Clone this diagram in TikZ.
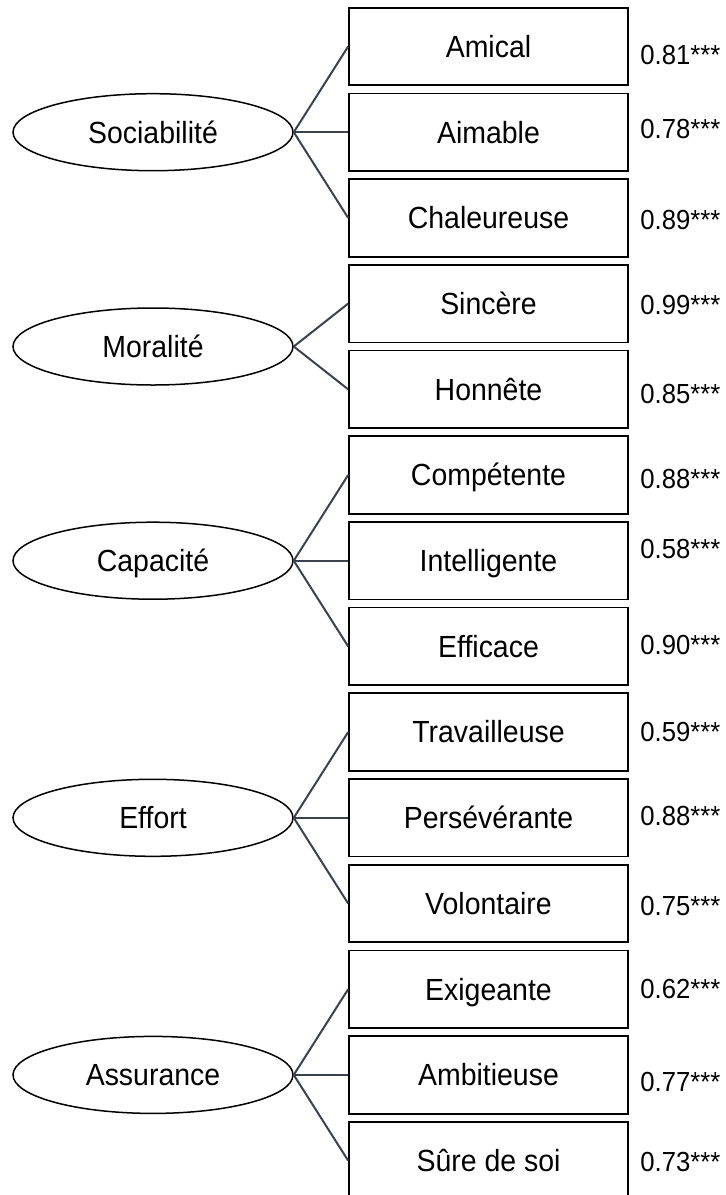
\documentclass[tikz,border=0pt]{standalone}
\usepackage{fontspec}
\setmainfont{Liberation Sans}[FakeStretch=0.93]
\usepackage{tikz}
\usetikzlibrary{shapes.geometric}
\definecolor{linkgray}{RGB}{58,66,78}
\tikzset{x=0.5pt,y=-0.5pt}

\begin{document}
\begin{tikzpicture}
    \tikzstyle{lnode} = [draw=black, line width=0.75pt, ellipse, inner sep=0pt, minimum width=140pt, minimum height=38.5pt, text height=10.8pt, text depth=0pt, font=\fontsize{15.3pt}{18pt}\selectfont]
    \tikzstyle{inode} = [draw=black, line width=0.85pt, rectangle, inner sep=0pt, minimum width=139.5pt, minimum height=38.8pt, text height=10.8pt, text depth=0pt, font=\fontsize{15.3pt}{18pt}\selectfont]
    \tikzstyle{wnode} = [anchor=base west, inner sep=0pt, font=\fontsize{13.8pt}{18pt}\selectfont]
    \tikzstyle{link} = [draw=linkgray, line width=1pt]
    \useasboundingbox (0,0) rectangle (725,1195);
    \clip (0,0) rectangle (725,1195);

    \node[lnode] (soc) at (153,132.2) {Sociabilité};
    \node[lnode] (mor) at (153,346.5) {Moralité};
    \node[lnode] (cap) at (153,560.7) {Capacité};
    \node[lnode] (eff) at (153,817.8) {Effort};
    \node[lnode] (ass) at (153,1074.9) {Assurance};

    \node[inode] (i1) at (488.5,46.5) {Amical};
    \node[inode] (i2) at (488.5,132.2) {Aimable};
    \node[inode] (i3) at (488.5,217.9) {Chaleureuse};
    \node[inode] (i4) at (488.5,303.6) {Sincère};
    \node[inode] (i5) at (488.5,389.3) {Honnête};
    \node[inode] (i6) at (488.5,475.0) {Compétente};
    \node[inode] (i7) at (488.5,560.7) {Intelligente};
    \node[inode] (i8) at (488.5,646.4) {Efficace};
    \node[inode] (i9) at (488.5,732.1) {Travailleuse};
    \node[inode] (i10) at (488.5,817.8) {Persévérante};
    \node[inode] (i11) at (488.5,903.5) {Volontaire};
    \node[inode] (i12) at (488.5,989.2) {Exigeante};
    \node[inode] (i13) at (488.5,1074.9) {Ambitieuse};
    \node[inode] (i14) at (488.5,1160.6) {Sûre de soi};

    \node[wnode] (w1) at (640,64.5) {0.81***};
    \node[wnode] (w2) at (640,138) {0.78***};
    \node[wnode] (w3) at (640,229) {0.89***};
    \node[wnode] (w4) at (640,314.5) {0.99***};
    \node[wnode] (w5) at (640,403) {0.85***};
    \node[wnode] (w6) at (640,488) {0.88***};
    \node[wnode] (w7) at (640,558.5) {0.58***};
    \node[wnode] (w8) at (640,654.5) {0.90***};
    \node[wnode] (w9) at (640,741) {0.59***};
    \node[wnode] (w10) at (640,825) {0.88***};
    \node[wnode] (w11) at (640,915.5) {0.75***};
    \node[wnode] (w12) at (640,998) {0.62***};
    \node[wnode] (w13) at (640,1091) {0.77***};
    \node[wnode] (w14) at (640,1171.5) {0.73***};

    \draw[link] (soc.east) to (i1.west);
    \draw[link] (soc.east) to (i2.west);
    \draw[link] (soc.east) to (i3.west);

    \draw[link] (mor.east) to (i4.west);
    \draw[link] (mor.east) to (i5.west);

    \draw[link] (cap.east) to (i6.west);
    \draw[link] (cap.east) to (i7.west);
    \draw[link] (cap.east) to (i8.west);

    \draw[link] (eff.east) to (i9.west);
    \draw[link] (eff.east) to (i10.west);
    \draw[link] (eff.east) to (i11.west);

    \draw[link] (ass.east) to (i12.west);
    \draw[link] (ass.east) to (i13.west);
    \draw[link] (ass.east) to (i14.west);

  \end{tikzpicture}
\end{document}
